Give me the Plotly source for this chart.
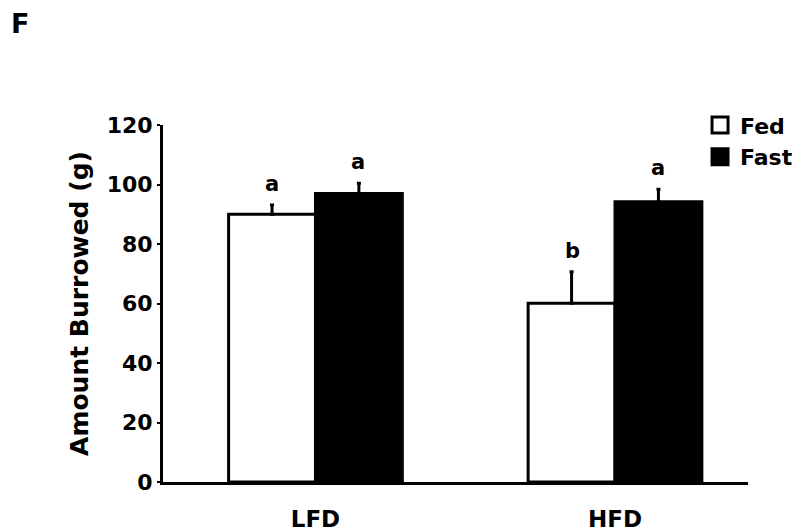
import plotly.graph_objects as go

diets = ["LFD", "HFD"]
fed_means = [90.0, 60.1]
fed_sem = [3.1, 10.6]
fast_means = [97.0, 94.2]
fast_sem = [3.4, 4.2]
fed_letters = ["a", "b"]
fast_letters = ["a", "a"]
y_ticks = [0, 20, 40, 60, 80, 100, 120]

FONT = "DejaVu Sans"
BLACK = "#000000"

fig = go.Figure()

# bars (legend handled by dummy square markers below)
fig.add_trace(go.Bar(
    x=diets, y=fed_means, name="Fed", showlegend=False,
    marker=dict(color="#FFFFFF", line=dict(color=BLACK, width=3)),
    error_y=dict(type="data", array=fed_sem, arrayminus=[0] * len(fed_sem),
                 symmetric=False, color=BLACK, thickness=3, width=2),
))
fig.add_trace(go.Bar(
    x=diets, y=fast_means, name="Fast", showlegend=False,
    marker=dict(color=BLACK, line=dict(color=BLACK, width=3)),
    error_y=dict(type="data", array=fast_sem, arrayminus=[0] * len(fast_sem),
                 symmetric=False, color=BLACK, thickness=3, width=2),
))

# legend entries with bigger square swatches
fig.add_trace(go.Scatter(
    x=[None], y=[None], mode="markers", name="Fed",
    marker=dict(symbol="square", size=16, color="#FFFFFF",
                line=dict(color=BLACK, width=3)),
))
fig.add_trace(go.Scatter(
    x=[None], y=[None], mode="markers", name="Fast",
    marker=dict(symbol="square", size=16, color=BLACK,
                line=dict(color=BLACK, width=3)),
))

# significance letters above the error bars
for i, d in enumerate(diets):
    for shift, top, letter in (
        (-43, fed_means[i] + fed_sem[i], fed_letters[i]),
        (43, fast_means[i] + fast_sem[i], fast_letters[i]),
    ):
        fig.add_annotation(
            x=d, y=top, text=letter, showarrow=False,
            xshift=shift, yshift=7, yanchor="bottom",
            font=dict(family=FONT, size=21, color=BLACK, weight="bold"),
        )

# panel letter
fig.add_annotation(
    x=0, y=1, xref="paper", yref="paper", xanchor="left", yanchor="bottom",
    text="F", showarrow=False, xshift=-154, yshift=84,
    font=dict(family=FONT, size=27, color=BLACK, weight="bold"),
)

# page body adds an 8px offset, margins compensate for it
fig.update_layout(
    width=800, height=530,
    margin=dict(l=155, r=60, t=117, b=56, autoexpand=False),
    paper_bgcolor="#FFFFFF", plot_bgcolor="#FFFFFF",
    barmode="group", bargap=0.42, bargroupgap=0,
    font=dict(family=FONT, color=BLACK),
    legend=dict(
        x=0.918, y=1.058, xanchor="left", yanchor="top",
        font=dict(family=FONT, size=22, color=BLACK, weight="bold"),
        bgcolor="rgba(0,0,0,0)", tracegroupgap=0, itemwidth=30,
    ),
)
fig.update_xaxes(
    range=[-0.509, 1.444], showline=True, linecolor=BLACK, linewidth=3,
    ticks="", ticklabelstandoff=14, showgrid=False, zeroline=False,
    tickfont=dict(family=FONT, size=23, color=BLACK, weight="bold"),
)
fig.update_yaxes(
    range=[0, 120], tickvals=y_ticks, showline=True, linecolor=BLACK,
    linewidth=3, ticks="outside", ticklen=3, tickwidth=2, tickcolor=BLACK,
    showgrid=False, zeroline=False,
    tickfont=dict(family=FONT, size=22, color=BLACK, weight="bold"),
    title=dict(text="Amount Burrowed (g)", standoff=11,
               font=dict(family=FONT, size=25, color=BLACK, weight="bold")),
)

fig.write_html("out.html")
